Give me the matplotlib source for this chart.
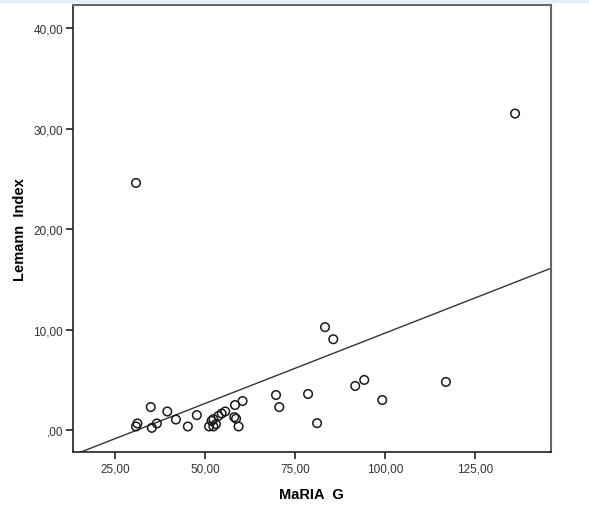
import matplotlib
matplotlib.use("Agg")
import matplotlib.pyplot as plt
import numpy as np

# Data
maria_g = [30.8, 136.1, 83.3, 85.6, 69.7, 70.6, 78.6, 81.1, 91.7, 94.2, 99.2, 116.9,
           30.8, 31.2, 34.9, 35.2, 36.6, 39.5, 41.9, 45.2, 47.7,
           51.1, 51.8, 52.3, 52.3, 53.0, 53.7, 54.6, 55.6, 58.1, 58.6, 58.3, 59.3, 60.4]
lemann = [24.6, 31.5, 10.25, 9.05, 3.5, 2.3, 3.6, 0.7, 4.4, 5.0, 3.0, 4.8,
          0.37, 0.67, 2.3, 0.23, 0.67, 1.86, 1.06, 0.37, 1.5,
          0.37, 0.93, 1.1, 0.37, 0.6, 1.42, 1.66, 1.86, 1.3, 1.15, 2.5, 0.37, 2.9]
fit_intercept = -4.34
fit_slope = 0.14
x_ticks = [25, 50, 75, 100, 125]
x_tick_labels = ["25,00", "50,00", "75,00", "100,00", "125,00"]
y_ticks = [0, 10, 20, 30, 40]
y_tick_labels = [",00", "10,00", "20,00", "30,00", "40,00"]

plt.rcParams['font.family'] = ['Liberation Sans', 'DejaVu Sans']

fig = plt.figure(figsize=(5.89, 5.10), dpi=100)
fig.patch.set_facecolor('white')
# faint top band
fig.add_artist(plt.Rectangle((0, 0.994), 1, 0.006, transform=fig.transFigure,
                             color='#e6edf3', zorder=0))
ax = fig.add_axes([73/589, 1 - 453.3/510, (550.7 - 73)/589, (453.3 - 6)/510])

xmin, xmax = 13.3, 146.0
ymin, ymax = -2.2, 42.3
ax.set_xlim(xmin, xmax)
ax.set_ylim(ymin, ymax)

ax.scatter(maria_g, lemann, s=38, facecolors='none', edgecolors='#1a1a1a',
           linewidths=1.1, zorder=3)

xs = np.array([xmin, xmax])
ax.plot(xs, fit_intercept + fit_slope * xs, color='#333333', lw=1.0, zorder=2)

ax.set_xticks(x_ticks)
ax.set_xticklabels(x_tick_labels)
ax.set_yticks(y_ticks)
ax.set_yticklabels(y_tick_labels)
ax.tick_params(axis='both', direction='out', length=5, width=1.2,
               labelsize=8.5, colors='#222222', labelcolor='#333333', pad=2)
ax.tick_params(top=False, right=False)

for side in ['left', 'bottom']:
    ax.spines[side].set_color('#222222')
    ax.spines[side].set_linewidth(1.2)
for side in ['top', 'right']:
    ax.spines[side].set_color('#666666')
    ax.spines[side].set_linewidth(1.5)

ax.set_xlabel("MaRIA  G", fontsize=10.5, fontweight='bold', labelpad=9)
ax.set_ylabel("Lemann  Index", fontsize=10.5, fontweight='bold', labelpad=5)

fig.savefig("out.png", dpi=100)
